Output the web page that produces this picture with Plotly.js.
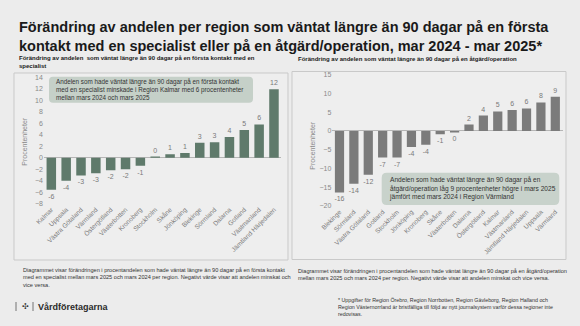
<!DOCTYPE html>
<html>
<head>
<meta charset="utf-8">
<script src="https://cdn.plot.ly/plotly-3.0.1.min.js"></script>
<style>
html,body{margin:0;padding:0;background:#ececec;}
#chart{width:580px;height:326px;}
</style>
</head>
<body>
<div id="chart"></div>
<script>
// ---- data ----
const leftRegions = ["Kalmar","Uppsala","Västra Götaland","Värmland","Östergötland","Västerbotten","Kronoberg","Stockholm","Skåne","Jönköping","Blekinge","Sörmland","Dalarna","Gotland","Västmanland","Jämtland Härjedalen"];
const leftValues = [-5.6,-4.0,-3.1,-2.7,-2.2,-2.0,-1.4,0.2,0.6,0.8,2.6,2.7,3.6,4.8,5.8,11.9];
const rightRegions = ["Blekinge","Sörmland","Västra Götaland","Gotland","Stockholm","Jönköping","Kronoberg","Skåne","Västerbotten","Dalarna","Östergötland","Kalmar","Västmanland","Jämtland Härjedalen","Uppsala","Värmland"];
const rightValues = [-16.4,-14.1,-11.7,-7.1,-7.1,-4.3,-3.7,-0.9,-0.4,1.7,4.1,5.2,5.6,6.0,7.6,9.1];
const leftTicks = [-8,-6,-4,-2,0,2,4,6,8,10,12,14];
const rightTicks = [-20,-15,-10,-5,0,5,10,15];

const W = 580, H = 326;
const px = x => x / W;
const py = y => 1 - y / H;
const FONT = "Liberation Sans, Arial, sans-serif";
const fmt = v => String(Math.round(v) === 0 ? 0 : Math.round(v));

const traceL = {
  type: "bar", x: leftRegions, y: leftValues, xaxis: "x", yaxis: "y",
  marker: {color: "#5f7a6b"},
  text: leftValues.map(fmt), textposition: "outside", constraintext: "none", cliponaxis: false,
  textfont: {family: FONT, size: 7, color: "#7a7a7a"}, hoverinfo: "none"
};
const traceR = {
  type: "bar", x: rightRegions, y: rightValues, xaxis: "x2", yaxis: "y2",
  marker: {color: "#7b7b7b"},
  text: rightValues.map(fmt), textposition: "outside", constraintext: "none", cliponaxis: false,
  textfont: {family: FONT, size: 7, color: "#7a7a7a"}, hoverinfo: "none"
};

function roundRect(x0, y0, x1, y1, r) {
  const rx = r / W, ry = r / H;
  const X0 = px(x0), X1 = px(x1), Y0 = py(y0), Y1 = py(y1);
  return `M ${X0+rx},${Y0} L ${X1-rx},${Y0} Q ${X1},${Y0} ${X1},${Y0-ry} L ${X1},${Y1+ry} Q ${X1},${Y1} ${X1-rx},${Y1} L ${X0+rx},${Y1} Q ${X0},${Y1} ${X0},${Y1+ry} L ${X0},${Y0-ry} Q ${X0},${Y0} ${X0+rx},${Y0} Z`;
}

function ann(text, x, y, size, o) {
  o = o || {};
  return Object.assign({
    text: text, x: px(x), y: py(y), xref: "paper", yref: "paper",
    xanchor: "left", yanchor: "middle", showarrow: false, align: "left",
    font: {family: FONT, size: size, color: o.color || "#222"}
  }, o.extra || {});
}

const axisCommon = {
  showgrid: false, zeroline: false, showline: false, ticks: "",
  tickfont: {family: FONT, size: 7, color: "#8a8a8a"}, fixedrange: true
};

const layout = {
  width: W, height: H,
  margin: {l: 0, r: 0, t: 0, b: 0},
  paper_bgcolor: "#ececec", plot_bgcolor: "rgba(0,0,0,0)",
  showlegend: false, bargap: 0.36,
  font: {family: FONT},
  xaxis: Object.assign({}, axisCommon, {domain: [px(43.9), px(281.4)], anchor: "y", tickangle: -45, tickfont: {family: FONT, size: 6.5, color: "#7a7a7a"}}),
  yaxis: Object.assign({}, axisCommon, {domain: [py(203.6), py(77.3)], anchor: "x", range: [-8, 14], tickvals: leftTicks, zeroline: true, zerolinecolor: "#b5b5b5", zerolinewidth: 1}),
  xaxis2: Object.assign({}, axisCommon, {domain: [px(332.3), px(562.5)], anchor: "y2", tickangle: -45, tickfont: {family: FONT, size: 6.5, color: "#7a7a7a"}}),
  yaxis2: Object.assign({}, axisCommon, {domain: [py(206), py(74.7)], anchor: "x2", range: [-20, 15], tickvals: rightTicks, zeroline: true, zerolinecolor: "#b5b5b5", zerolinewidth: 1}),
  shapes: [
    {type: "rect", xref: "paper", yref: "paper", x0: px(14), x1: px(288), y0: py(73), y1: py(260), line: {color: "#c9c9c9", width: 1}, fillcolor: "#eeeeee", layer: "below"},
    {type: "rect", xref: "paper", yref: "paper", x0: px(292), x1: px(566), y0: py(71.5), y1: py(259.5), line: {color: "#c9c9c9", width: 1}, fillcolor: "#eeeeee", layer: "below"},
    {type: "path", xref: "paper", yref: "paper", path: roundRect(49, 76.7, 253, 102.7, 4), fillcolor: "#c5d0c8", line: {width: 0}, layer: "above"},
    {type: "path", xref: "paper", yref: "paper", path: roundRect(381.7, 172.7, 559.3, 205, 5), fillcolor: "#c8d2cb", line: {width: 0}, layer: "above"},
    {type: "line", xref: "paper", yref: "paper", x0: px(16), x1: px(16), y0: py(302), y1: py(311), line: {color: "#555", width: 0.8}},
    {type: "line", xref: "paper", yref: "paper", x0: px(33), x1: px(33), y0: py(302), y1: py(311), line: {color: "#555", width: 0.8}}
  ],
  annotations: [
    ann("<b>Förändring av andelen per region som väntat längre än 90 dagar på en första<br>kontakt med en specialist eller på en åtgärd/operation, mar 2024 - mar 2025*</b>", 17, 36, 14.5, {color: "#1a1a1a"}),
    ann("<b>Förändring av andelen  som väntat längre än 90 dagar på en första kontakt med en<br>specialist</b>", 17, 62, 6, {color: "#1a1a1a"}),
    ann("<b>Förändring av andelen som väntat längre än 90 dagar på en åtgärd/operation</b>", 296, 59, 6, {color: "#1a1a1a"}),
    ann("Andelen som hade väntat längre än 90 dagar på en första kontakt<br>med en specialist minskade i Region Kalmar med 6 procentenheter<br>mellan mars 2024 och mars 2025", 54, 89.7, 6.3, {color: "#333"}),
    ann("Andelen som hade väntat längre än 90 dagar på en<br>åtgärd/operation låg 9 procentenheter högre i mars 2025<br>jämfört med mars 2024 i Region Värmland", 387, 188.8, 6.6, {color: "#333"}),
    ann("Procentenheter", 25, 141.7, 7, {color: "#8a8a8a", extra: {textangle: -90, xanchor: "center"}}),
    ann("Procentenheter", 311.7, 145, 7, {color: "#8a8a8a", extra: {textangle: -90, xanchor: "center"}}),
    ann("Diagrammet visar förändringen i procentandelen som hade väntat längre än 90 dagar på en första kontakt<br>med en specialist mellan mars 2025 och mars 2024 per region. Negativt värde visar att andelen minskat och<br>vice versa.", 20.5, 277, 5.6, {color: "#333"}),
    ann("Diagrammet visar förändringen i procentandelen som hade väntat längre än 90 dagar på en åtgärd/operation<br>mellan mars 2025 och mars 2024 per region. Negativt värde visar att andelen minskat och vice versa.", 296, 274.2, 5.6, {color: "#333"}),
    ann("* Uppgifter för Region Örebro, Region Norrbotten, Region Gävleborg, Region Halland och<br>Region Västernorrland är bristfälliga till följd av nytt journalsystem varför dessa regioner inte<br>redovisas.", 336, 307, 5.3, {color: "#333"}),
    ann("✣", 19.5, 306.5, 8, {color: "#333"}),
    ann("<b>Vårdföretagarna</b>", 36, 306.5, 9, {color: "#2a2a2a"})
  ]
};

Plotly.newPlot("chart", [traceL, traceR], layout, {staticPlot: true, displayModeBar: false});
</script>
</body>
</html>
